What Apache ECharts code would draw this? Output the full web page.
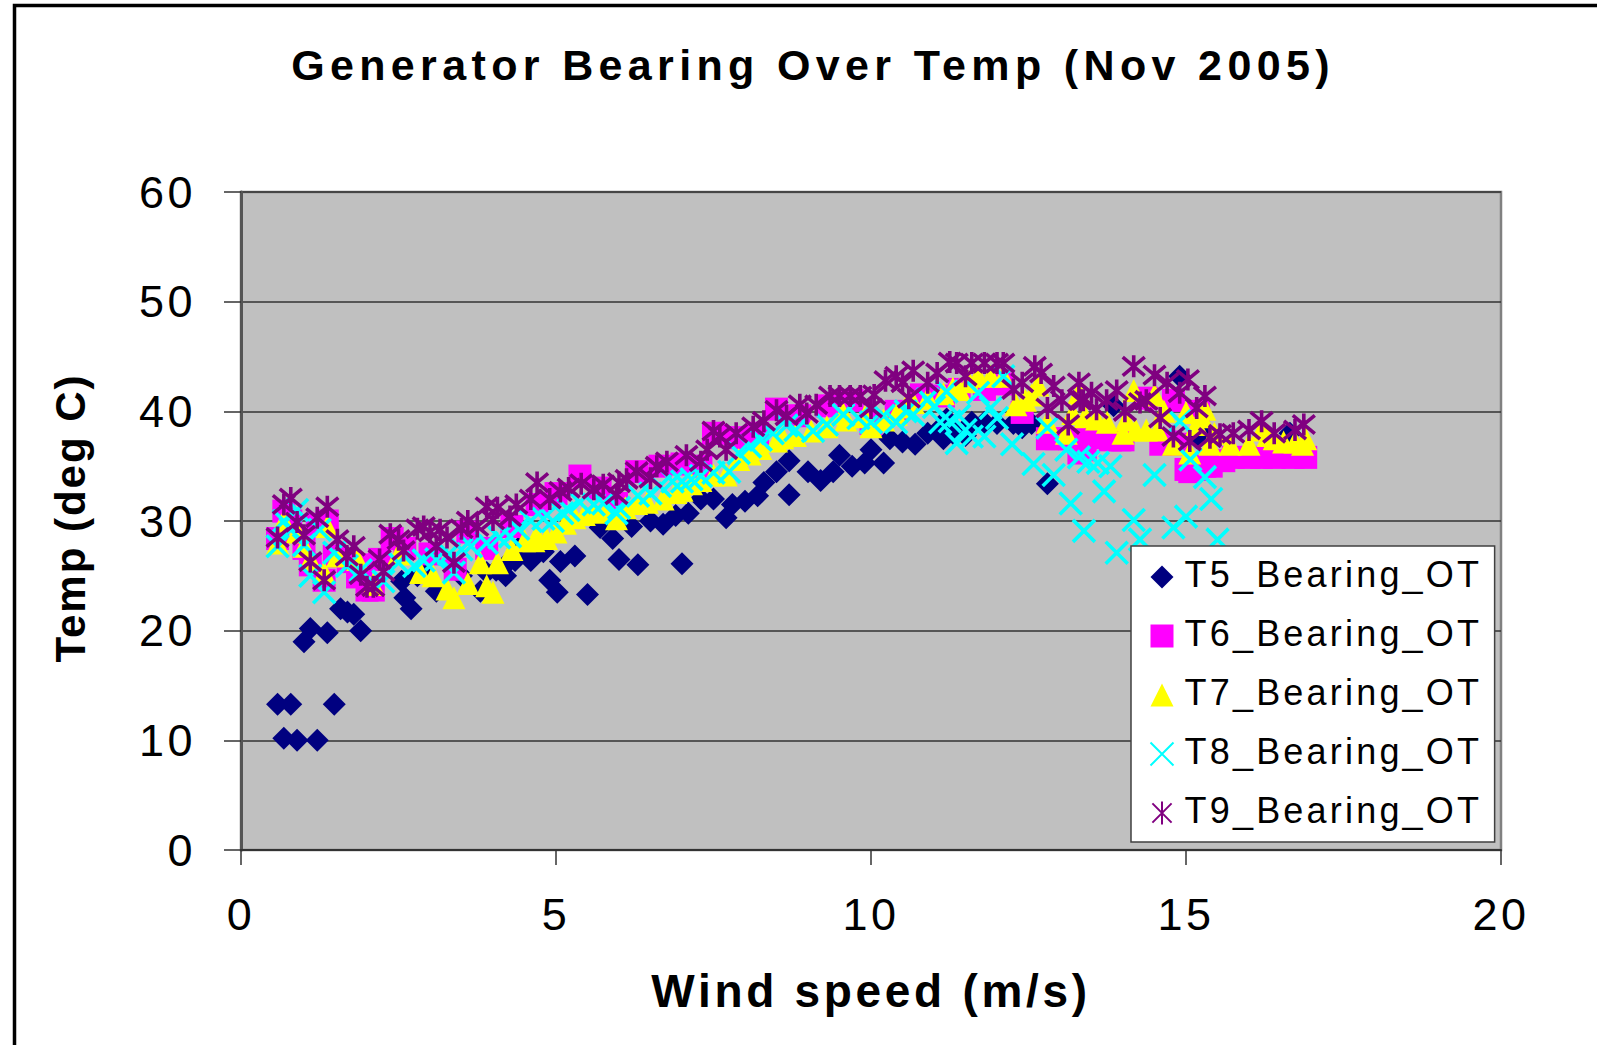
<!DOCTYPE html>
<html lang="en">

<head>
    <meta charset="UTF-8">
    <title>Generator Bearing Over Temp (Nov 2005)</title>
    <script src="https://cdn.jsdelivr.net/npm/echarts@6/dist/echarts.min.js"></script>
    <style>
        html, body { margin: 0; background: #fff; }
        #main { width: 1597px; height: 1045px; }
        /* the original has very loose text, svg renderer lets css do it */
        #main text { letter-spacing: 3.5px; }
        #main text[style*="43px"] { letter-spacing: 5.35px; }
        #main text[style*="46px"] { letter-spacing: 3.7px; }
        #main text[style*="42px"] { letter-spacing: 2px; }
        /* legend text sits a little above its symbol */
        #main text[style*="36px"] { letter-spacing: 3.2px; translate: 0 -3px; }
    </style>
</head>

<body>
    <div id="main"></div>
    <script type="text/javascript">
        var chartTitle = 'Generator Bearing Over Temp (Nov 2005)'
        var xName = 'Wind speed (m/s)'
        var yName = 'Temp (deg C)'
        var seriesNames = ['T5_Bearing_OT', 'T6_Bearing_OT', 'T7_Bearing_OT', 'T8_Bearing_OT', 'T9_Bearing_OT']

        // values: [wind speed, temp]
        var t5 = [[0.58,13.3],[0.79,13.3],[1.48,13.3],[0.68,10.2],[0.89,10.0],[1.21,10.0],[1.0,19.0],[1.1,20.2],[1.37,19.8],[1.58,22],[1.69,21.7],[1.79,21.5],[1.9,20],
            [2.7,22],[2.6,23],[2.55,24.5],[2.8,25],[2.9,25.5],[3.1,23.6],[3.5,25],[3.8,23.6],[3.9,25.3],[4.05,25.5],[4.2,25],[4.2,26],[4.35,26.4],[4.4,27.5],[4.6,26.4],[4.65,27.7],[4.75,27.4],[5.02,23.5],[4.9,24.6],[5.5,23.3],[5.07,26.3],[5.3,26.8],[4.8,27.2],[4.55,27.2],
            [5.7,29.4],[5.9,28.4],[6.0,26.5],[6.3,26],[7.0,26.1],[6.2,29.5],[6.5,30],[6.7,29.7],[6.9,30.5],[7.1,30.7],[7.3,32],[7.5,32],[7.7,30.3],[7.8,31.5],[8.0,31.8],[8.2,32.3],[8.3,33.5],
            [8.5,34.5],[8.7,35.5],[8.7,32.4],[9,34.5],[9.2,33.7],[9.4,34.5],[9.5,36],[9.7,35],[9.9,35.3],[10,36.5],[10.2,35.3],[10.3,37.5],[10.5,37.2],[10.7,37],[10.9,38],[11.1,38.5],[11.15,37.5],[11.2,39.3],[11.3,38],[11.35,38],
            [11.5,37.8],[11.6,39],[11.8,39],[12,38.9],[12.26,38.9],[12.4,38.5],[12.55,38.9],[12.8,33.4],[14.9,43.2],[13.85,40.5],[15.17,37.6],[15.35,37.8],[16.65,38]]
        var t6 = [[0.58,28.4],[0.68,30.9],[0.79,30],[1.21,29.7],[1.37,30],[1.0,27.5],[1.48,26.8],[1.1,26],[1.32,24.6],[1.7,26.3],[1.9,26],[1.85,24.9],[2.1,23.7],[2.0,23.7],[2.2,26.5],[2.4,28.4],[2.6,27.5],
            [3.0,27],[3.4,25.6],[3.6,29],[3.9,27.5],[4.3,29.5],[4.7,31.5],[5.0,32.5],[5.38,34.1],[5.7,33],[5.96,31.6],[6.28,34.5],[6.65,35],[7.0,35.2],[7.3,35],[7.5,38],[7.85,37.6],[8.2,38],
            [8.5,40.2],[8.87,39.6],[9.3,40.5],[9.7,41],[10,38.9],[10.4,40],[10.8,41.5],[11.15,41.4],[11.4,42],[11.8,42],[12.1,42.5],[12.4,39.9],[12.8,37.5],[12.95,37.5],[13.15,37.5],[13.3,36.2],[13.4,36.5],
            [13.5,37.7],[13.6,37.6],[13.8,37.4],[13.95,37.4],[14,37.4],[14.37,41.2],[14.6,37],[14.75,37.2],[14.85,37],[14.8,41],[15.0,34.7],[15.06,34.5],[15.15,34.7],[15.2,40],[15.3,35],[15.4,35],[15.6,35.5],[15.75,35.8],[16,35.8],[16.2,35.8],[16.4,35.8],[16.7,35.8],[16.9,35.8]]
        var t7 = [[0.58,28],[0.68,30],[0.89,29],[1.37,29.5],[1.0,27.7],[1.1,26.5],[1.32,25.3],[1.53,26.8],[1.85,26.5],[2.1,24.2],[2.5,27],[2.85,25.3],[3.05,25],[3.27,23.8],[3.38,23],[3.6,24.3],[3.8,26.2],
            [4.07,26.2],[3.9,24.1],[4.0,23.5],[4.3,27.4],[4.5,28.2],[4.65,28.2],[4.7,28.6],[4.85,28.4],[5.0,29],[5.15,29.8],[5.3,30.3],[5.45,30.6],[5.6,30.8],[5.8,30.9],[5.96,30.2],[6.1,31.2],[6.28,31.6],[6.45,31.7],[6.7,32],[6.9,32.6],[7,32.8],[7.15,33.4],[7.3,33.7],[7.5,34.2],[7.7,34.2],[7.9,35.6],[8.08,36.1],[8.25,36.6],
            [8.5,37.3],[8.6,37.6],[8.8,37.8],[9.05,38.2],[9.3,38.6],[9.56,39.8],[9.6,39.2],[9.9,39.5],[10,38.6],[10.2,39.2],[10.4,39.7],[10.55,40.4],[10.67,40.8],[10.9,41.2],[11.15,41.6],[11.3,42.1],[11.4,42],[11.55,42.7],[11.7,43.2],[11.9,43.2],[12.1,43.2],[12.3,40.6],[12.45,41],[12.55,41.5],[12.65,42.4],[12.8,39],[13.1,38],[13.2,39.8],
            [13.3,41.7],[13.4,39.5],[13.58,39.3],[13.75,39],[14,38],[14.05,39.2],[14.17,41.9],[14.2,38.3],[14.37,38.3],[14.5,41.5],[14.55,38.3],[14.65,40],[14.8,37],[15,39.9],[15.06,36.2],[15.17,38.8],[15.25,39.5],[15.3,40.2],[15.38,37],[15.45,38],[15.7,37],[16,37],[16.2,38.3],[16.3,37.8],[16.4,37.5],[16.55,37.2],[16.73,37.2],[16.85,37],[16.9,37.5]]
        var t8 = [[0.58,27.7],[0.68,30],[0.79,29.2],[0.89,31],[1,27.8],[1.25,29.2],[1.1,25],[1.32,23.5],[1.48,27.1],[1.68,25.9],[1.9,25.5],[2.26,24.5],[2.5,26.2],[2.75,25.9],[2.9,26.4],[3.1,26.5],[3.3,27],[3.38,25.3],[3.5,27.4],[3.65,27.7],
            [3.9,28],[4.1,28.5],[4.27,28.6],[4.4,29.3],[4.6,30],[4.8,30.2],[4.95,30],[5.1,30.7],[5.2,31],[5.38,31.7],[5.6,31.5],[5.75,31.6],[5.96,30.7],[6,31.2],[6.3,32.3],[6.5,32.5],[6.65,33.2],[6.85,33.6],[7.0,33.6],[7.15,33.8],[7.3,34.1],[7.5,34.4],[7.75,34.5],[7.9,36.2],[8.08,36.8],[8.25,37.4],[8.44,38],[8.66,38.7],[8.8,38.3],
            [9.08,38.2],[9.3,38.8],[9.56,39.7],[9.8,39.4],[10,39],[10.2,39.6],[10.4,39],[10.55,40],[10.67,39.7],[10.9,41.1],[11.0,40.4],[11.1,39],[11.2,41.8],[11.25,39.1],[11.36,37.1],[11.4,39.6],[11.5,38.3],[11.6,37.7],[11.7,41.7],[11.8,37.7],[11.9,40.3],[12.0,39.4],
            [12.1,43.2],[12.24,37],[12.58,35.2],[12.8,38.5],[12.9,34.2],[13.1,36.5],[13.17,31.6],[13.3,35.8],[13.38,29.1],[13.45,35.4],[13.6,35.3],[13.7,32.7],[13.8,35],[13.9,27.1],[14.17,30.1],[14.27,28.3],
            [14.5,34.2],[14.8,29.4],[14.9,39.1],[15,30.4],[15.07,35.6],[15.3,34],[15.4,32],[15.5,28.3]]
        var t9 = [[0.58,28.5],[0.68,31.5],[0.79,32.1],[0.89,29.9],[1.0,28.7],[1.21,30.3],[1.37,31.3],[1.1,26.3],[1.32,24.6],[1.53,28.3],[1.79,27.7],[1.68,26.8],[1.9,25.1],[2.0,24],[2.1,24],[2.26,25.4],[2.2,26.5],
            [2.37,28.8],[2.58,27.3],[2.5,28.3],[2.8,29.3],[2.9,29.5],[3.0,29],[3.1,27.7],[3.27,28.5],[3.16,29.2],[3.38,26.2],[3.6,30],[3.5,29.3],[3.75,29.5],[3.9,31.3],[4.07,31.2],[4.0,30.1],[4.27,30.4],
            [4.37,31.5],[4.6,32],[4.7,33.5],[4.9,32],[5.07,32.7],[5.2,33],[5.4,33.4],[5.6,32.9],[5.75,33.3],[5.96,32.4],[6,33.5],[6.12,33.8],[6.28,34.5],[6.5,33.9],[6.6,35],[6.76,35.4],[7.07,36],[7.3,35.4],
            [7.4,36.5],[7.5,38.2],[7.6,37.7],[7.7,36.5],[7.86,38],[8.13,38.6],[8.3,39.1],[8.5,40.1],[8.66,39.6],[8.87,40.6],[8.98,39.8],[9.13,40.6],[9.35,41.4],[9.5,41.4],[9.67,41.4],[9.83,41.4],[10,40.3],
            [10.05,41.5],[10.23,42.8],[10.4,43.2],[10.5,42.6],[10.6,41.2],[10.67,43.7],[10.9,42.6],[11.05,43.5],[11.25,44.5],[11.36,44.4],[11.5,43.2],[11.6,44.4],[11.8,44.4],[12,44.4],[12.1,44.4],[12.26,42],
            [12.4,42.6],[12.6,44.1],[12.7,43.5],[12.8,40.3],[12.9,42.3],[13.03,41],[13.13,38.8],[13.3,42.6],[13.32,41],[13.37,41],[13.5,41.7],[13.58,40.2],[13.74,41],[13.9,41.9],[14.03,40],[14.17,44.1],[14.27,40.8],
            [14.37,41],[14.5,43.3],[14.59,39.4],[14.7,42.6],[14.8,37.7],[14.9,41.7],[15.03,42.9],[15.06,37.3],[15.17,40.3],[15.3,41.4],[15.38,37.6],[15.54,37.9],[15.75,38],[16,38.3],[16.2,39.1],[16.4,38],[16.73,38.3],[16.87,38.8]]
        var seriesData = [t5, t6, t7, t8, t9]

        var seriesColors = ['#000080', '#ff00ff', '#ffff00', '#00ffff', '#800080']
        var seriesSymbols = ['diamond', 'rect', 'triangle',
            'path://M0 0L10 10M10 0L0 10',
            'path://M0 0L10 10M10 0L0 10M5 -1L5 11']

        var myChart = echarts.init(document.getElementById('main'), null, { renderer: 'svg' })

        var option = {
            animation: false,
            backgroundColor: '#fff',
            textStyle: { fontFamily: 'Liberation Sans', color: '#000' },
            // page frame, runs off the right and bottom edge
            graphic: [{
                type: 'rect',
                silent: true,
                shape: { x: 14.5, y: 5.5, width: 1700, height: 1200 },
                style: { fill: 'none', stroke: '#000', lineWidth: 3.5 }
            }],
            title: {
                text: chartTitle,
                left: 808,
                top: 38,
                textAlign: 'center',
                textStyle: { fontSize: 43, fontWeight: 'bold', color: '#000', fontFamily: 'Liberation Sans' }
            },
            legend: {
                orient: 'vertical',
                left: 1131,
                top: 546,
                data: seriesNames,
                backgroundColor: '#fff',
                borderColor: '#404040',
                borderWidth: 1.5,
                padding: [13, 54, 11, 17],
                itemGap: 23,
                itemWidth: 23,
                itemHeight: 23,
                textStyle: { fontSize: 36, color: '#000', fontFamily: 'Liberation Sans', padding: [0, 0, 0, 6] }
            },
            grid: {
                left: 241,
                top: 192,
                width: 1260,
                height: 658,
                show: true,
                backgroundColor: '#c0c0c0',
                borderColor: '#808080',
                borderWidth: 2.5
            },
            xAxis: {
                type: 'value',
                min: 0,
                max: 20,
                interval: 5,
                name: xName,
                nameLocation: 'middle',
                nameGap: 118,
                nameTextStyle: { fontSize: 46, fontWeight: 'bold', color: '#000' },
                axisLine: { show: true, onZero: false, lineStyle: { color: '#333', width: 2 } },
                axisTick: { show: true, length: 15, lineStyle: { color: '#333', width: 1.5 } },
                axisLabel: { fontSize: 45, color: '#000', margin: 42 },
                splitLine: { show: false }
            },
            yAxis: {
                type: 'value',
                min: 0,
                max: 60,
                interval: 10,
                name: yName,
                nameLocation: 'middle',
                nameGap: 150,
                nameTextStyle: { fontSize: 42, fontWeight: 'bold', color: '#000', padding: [0, 0, 0, 6] },
                axisLine: { show: true, lineStyle: { color: '#555', width: 3 } },
                axisTick: { show: true, length: 17, lineStyle: { color: '#333', width: 1.5 } },
                axisLabel: { fontSize: 45, color: '#000', margin: 45 },
                splitLine: { show: true, lineStyle: { color: '#333', width: 1.5 } }
            },
            series: seriesNames.map(function (name, i) {
                var stroked = i > 2
                return {
                    name: name,
                    type: 'scatter',
                    data: seriesData[i],
                    symbol: seriesSymbols[i],
                    symbolSize: stroked ? 22 : 23,
                    itemStyle: stroked
                        ? { color: 'none', borderColor: seriesColors[i], borderWidth: 3.6, opacity: 1 }
                        : { color: seriesColors[i], opacity: 1 }
                }
            })
        }
        myChart.setOption(option)
    </script>
</body>

</html>
